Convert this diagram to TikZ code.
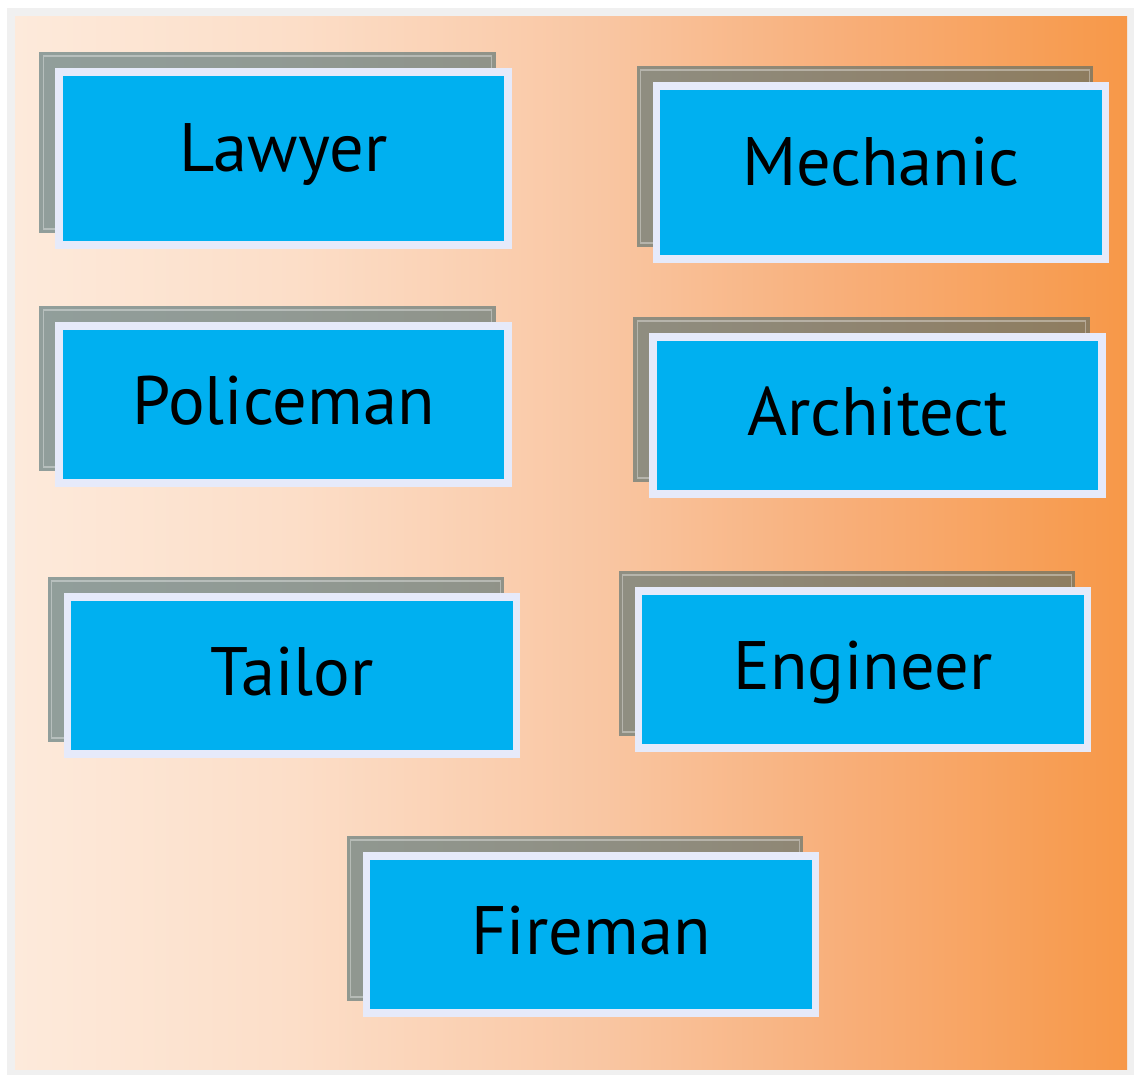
\documentclass[tikz,border=0pt]{standalone}
\usepackage{fontspec}
\setmainfont{PT Sans}
\usetikzlibrary{calc}
\definecolor{cardblue}{HTML}{00B0F0}
\definecolor{cardrim}{HTML}{E6EAFA}
\definecolor{framegray}{HTML}{F0F0F0}
\definecolor{shadowtone}{RGB}{64,102,108}
\definecolor{peachA}{HTML}{FDEADB}
\definecolor{peachB}{HTML}{FCDEC8}
\definecolor{peachC}{HTML}{F9C6A2}
\definecolor{peachD}{HTML}{F8AE78}
\definecolor{peachE}{HTML}{F79848}
\pgfdeclarehorizontalshading{peach}{100bp}{color(0bp)=(peachA); color(25bp)=(peachA); color(37.5bp)=(peachB); color(51.5bp)=(peachC); color(62.5bp)=(peachD); color(75bp)=(peachE); color(100bp)=(peachE)}
\pgfdeclarelayer{bg}
\pgfdeclarelayer{shade}
\pgfsetlayers{bg,shade,main}
\tikzset{
    card/.style={draw=cardrim, fill=cardblue, line width=0.15cm, minimum width=8.99cm, minimum height=3.15cm, inner sep=0pt, text height=0.98cm, text depth=0.17cm, font=\fontsize{39}{39}\selectfont},
    tallcard/.style={card, minimum height=3.47cm, text depth=0.44cm}
}
\newcommand{\cardshadow}[1]{
    \begin{pgfonlayer}{shade}
        \fill[shadowtone, fill opacity=0.57] ($(#1.north west)+(-16,-16)$) rectangle ($(#1.south east)+(-16,-16)$);
        \draw[white, draw opacity=0.35, line width=0.6pt] ($(#1.north west)+(-12,-12)$) rectangle ($(#1.south east)+(-20,-20)$);
    \end{pgfonlayer}
}

\begin{document}
\begin{tikzpicture}[x=0.02cm, y=-0.02cm]
            \useasboundingbox (0,0) rectangle (1134,1075);
            \begin{pgfonlayer}{bg}
                \fill[white] (0,0) rectangle (1134,1075);
                \fill[framegray] (7,8) rectangle (1134,1075);
                \shade[shading=peach] (15,16) rectangle (1127,1069);
            \end{pgfonlayer}

            \node[tallcard] (lawyer) at (283.5,158.5) {Lawyer};
            \node[tallcard] (mechanic) at (881,172.5) {Mechanic};
            \node[card] (policeman) at (283.5,404.5) {Policeman};
            \node[card] (architect) at (877.5,415.5) {Architect};
            \node[card] (tailor) at (292,675.5) {Tailor};
            \node[card] (engineer) at (863,669.5) {Engineer};
            \node[card] (fireman) at (591,934.5) {Fireman};

            \cardshadow{lawyer}
            \cardshadow{mechanic}
            \cardshadow{policeman}
            \cardshadow{architect}
            \cardshadow{tailor}
            \cardshadow{engineer}
            \cardshadow{fireman}
        \end{tikzpicture}
\end{document}
